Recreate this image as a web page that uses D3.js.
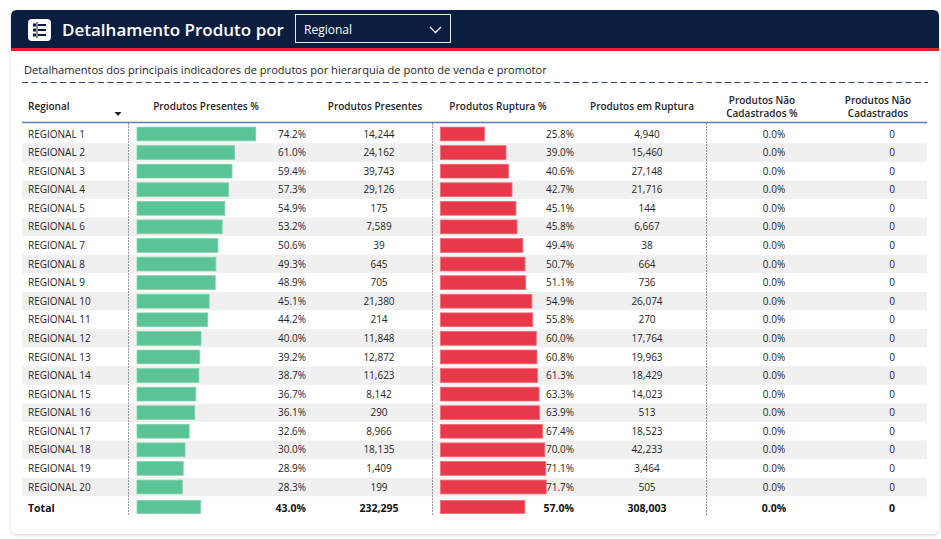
<!DOCTYPE html>
<html>
<head>
<meta charset="utf-8">
<script src="https://cdn.jsdelivr.net/npm/d3@7"></script>
<style>
  body { margin: 0; background: #ffffff; }
  svg text { font-family: "Open Sans", "Noto Sans", sans-serif; }
</style>
</head>
<body>
<svg id="chart"></svg>
<script>
var regionais = ["REGIONAL 1","REGIONAL 2","REGIONAL 3","REGIONAL 4","REGIONAL 5","REGIONAL 6","REGIONAL 7","REGIONAL 8","REGIONAL 9","REGIONAL 10",
  "REGIONAL 11","REGIONAL 12","REGIONAL 13","REGIONAL 14","REGIONAL 15","REGIONAL 16","REGIONAL 17","REGIONAL 18","REGIONAL 19","REGIONAL 20"];
var presentesPct = [74.2,61.0,59.4,57.3,54.9,53.2,50.6,49.3,48.9,45.1,44.2,40.0,39.2,38.7,36.7,36.1,32.6,30.0,28.9,28.3];
var presentes = [14244,24162,39743,29126,175,7589,39,645,705,21380,214,11848,12872,11623,8142,290,8966,18135,1409,199];
var rupturaPct = [25.8,39.0,40.6,42.7,45.1,45.8,49.4,50.7,51.1,54.9,55.8,60.0,60.8,61.3,63.3,63.9,67.4,70.0,71.1,71.7];
var ruptura = [4940,15460,27148,21716,144,6667,38,664,736,26074,270,17764,19963,18429,14023,513,18523,42233,3464,505];
var naoCadPct = [0,0,0,0,0,0,0,0,0,0,0,0,0,0,0,0,0,0,0,0];
var naoCad = [0,0,0,0,0,0,0,0,0,0,0,0,0,0,0,0,0,0,0,0];
var totalRow = { presentesPct: 43.0, presentes: 232295, rupturaPct: 57.0, ruptura: 308003, naoCadPct: 0.0, naoCad: 0 };

var W = 941, H = 539;
var navy = "#0c1e40", red = "#e3202f", green = "#5bc496", barRed = "#e8394a", txt = "#252423";

var svg = d3.select("#chart").attr("width", W).attr("height", H);

var defs = svg.append("defs");
var sh = defs.append("filter").attr("id", "shadow").attr("x", "-5%").attr("y", "-5%").attr("width", "110%").attr("height", "112%");
sh.append("feDropShadow").attr("dx", 0).attr("dy", 1).attr("stdDeviation", 1.5).attr("flood-color", "#000").attr("flood-opacity", 0.18);

// card
var card = { x: 11, y: 10, w: 928, h: 524 };
svg.append("rect").attr("x", card.x).attr("y", card.y).attr("width", card.w).attr("height", card.h)
  .attr("rx", 6).attr("fill", "#fff").attr("filter", "url(#shadow)");

// header band
var hdr = svg.append("g");
hdr.append("path")
  .attr("d", "M" + card.x + "," + (card.y + 38) + " V" + (card.y + 6) + " Q" + card.x + "," + card.y + " " + (card.x + 6) + "," + card.y +
    " H" + (card.x + card.w - 6) + " Q" + (card.x + card.w) + "," + card.y + " " + (card.x + card.w) + "," + (card.y + 6) +
    " V" + (card.y + 38) + " Z")
  .attr("fill", navy);
hdr.append("rect").attr("x", card.x).attr("y", card.y + 38).attr("width", card.w).attr("height", 3).attr("fill", red);

// icon
var ic = hdr.append("g").attr("transform", "translate(28,19)");
ic.append("rect").attr("width", 23).attr("height", 22).attr("rx", 4).attr("fill", "#fff");
[6, 11, 16].forEach(function (y) {
  ic.append("rect").attr("x", 5).attr("y", y - 1.5).attr("width", 3).attr("height", 3).attr("fill", navy);
  ic.append("rect").attr("x", 10).attr("y", y - 1).attr("width", 8).attr("height", 2).attr("fill", navy);
});
ic.append("line").attr("x1", 9).attr("x2", 9).attr("y1", 3).attr("y2", 19).attr("stroke", navy).attr("stroke-width", 1);

hdr.append("text").attr("x", 62).attr("y", 36).attr("fill", "#fff")
  .attr("font-size", 17).attr("font-weight", 600).text("Detalhamento Produto por");

// dropdown
hdr.append("rect").attr("x", 295.5).attr("y", 14.5).attr("width", 155).attr("height", 28)
  .attr("fill", "none").attr("stroke", "#e6e9ef").attr("stroke-width", 1);
hdr.append("text").attr("x", 304).attr("y", 34).attr("fill", "#fff").attr("font-size", 12).text("Regional");
hdr.append("path").attr("d", "M430,27 L435.5,32.5 L441,27").attr("fill", "none").attr("stroke", "#fff").attr("stroke-width", 1.3);

// subtitle + dashed rule
svg.append("text").attr("x", 24).attr("y", 74).attr("fill", txt).attr("font-size", 11.1)
  .text("Detalhamentos dos principais indicadores de produtos por hierarquia de ponto de venda e promotor");
svg.append("line").attr("x1", 22).attr("x2", 928).attr("y1", 82.5).attr("y2", 82.5)
  .attr("stroke", "#34466b").attr("stroke-width", 1.2).attr("stroke-dasharray", "6,3.5");

// table geometry
var tableLeft = 22, tableRight = 927;
var y = d3.scaleBand().domain(d3.range(regionais.length)).range([124.7, 496.3]).padding(0);
var totalY = 508;

// data bars: presentes linear; ruptura squeezed near the value text, as in the report
var pctBar = d3.scaleLinear().domain([0, 100]).range([0, 160]);
var rupBar = d3.scaleLinear().domain([0, 55, 72]).range([2, 91.5, 106]).clamp(true);
var totBar = d3.scaleLinear().domain([0, 100]).range([0, 148]);

var fmtPct = function (v) { return d3.format(".1f")(v) + "%"; };
var fmtNum = d3.format(",");

// column headers
var hd = svg.append("g").attr("fill", txt).attr("font-size", 10).attr("font-weight", 600);
hd.append("text").attr("x", 28).attr("y", 110).text("Regional");
hd.append("text").attr("x", 206).attr("y", 110).attr("text-anchor", "middle").text("Produtos Presentes %");
hd.append("text").attr("x", 375).attr("y", 110).attr("text-anchor", "middle").text("Produtos Presentes");
hd.append("text").attr("x", 498).attr("y", 110).attr("text-anchor", "middle").text("Produtos Ruptura %");
hd.append("text").attr("x", 642).attr("y", 110).attr("text-anchor", "middle").text("Produtos em Ruptura");
hd.append("text").attr("x", 762).attr("y", 104).attr("text-anchor", "middle").text("Produtos Não");
hd.append("text").attr("x", 762).attr("y", 117).attr("text-anchor", "middle").text("Cadastrados %");
hd.append("text").attr("x", 878).attr("y", 104).attr("text-anchor", "middle").text("Produtos Não");
hd.append("text").attr("x", 878).attr("y", 117).attr("text-anchor", "middle").text("Cadastrados");
svg.append("path").attr("d", "M114.5,112 L121.5,112 L118,116 Z").attr("fill", "#222");

// rows
var rows = svg.append("g").selectAll("g").data(regionais).join("g")
  .attr("transform", function (d, i) { return "translate(0," + y(i) + ")"; });
var bh = y.bandwidth();

rows.append("rect").attr("x", tableLeft).attr("width", tableRight - tableLeft).attr("height", bh)
  .attr("fill", function (d, i) { return i % 2 ? "#f0f0f0" : "#fff"; });

rows.append("rect").attr("x", 137).attr("y", 2.4).attr("height", bh - 4.8)
  .attr("width", function (d, i) { return pctBar(presentesPct[i]); })
  .attr("fill", green).attr("stroke", "#7fd4ad").attr("stroke-width", 0.8);
rows.append("rect").attr("x", 440.5).attr("y", 2.4).attr("height", bh - 4.8)
  .attr("width", function (d, i) { return rupBar(rupturaPct[i]); })
  .attr("fill", barRed).attr("stroke", "#ef6a76").attr("stroke-width", 0.8);

var rt = rows.append("g").attr("fill", txt).attr("font-size", 10);
rt.append("text").attr("x", 28).attr("y", bh / 2 + 3.6).text(function (d) { return d; });
rt.append("text").attr("x", 306).attr("y", bh / 2 + 3.6).attr("text-anchor", "end").text(function (d, i) { return fmtPct(presentesPct[i]); });
rt.append("text").attr("x", 379).attr("y", bh / 2 + 3.6).attr("text-anchor", "middle").text(function (d, i) { return fmtNum(presentes[i]); });
rt.append("text").attr("x", 574).attr("y", bh / 2 + 3.6).attr("text-anchor", "end").text(function (d, i) { return fmtPct(rupturaPct[i]); });
rt.append("text").attr("x", 647).attr("y", bh / 2 + 3.6).attr("text-anchor", "middle").text(function (d, i) { return fmtNum(ruptura[i]); });
rt.append("text").attr("x", 774).attr("y", bh / 2 + 3.6).attr("text-anchor", "middle").text(function (d, i) { return fmtPct(naoCadPct[i]); });
rt.append("text").attr("x", 892).attr("y", bh / 2 + 3.6).attr("text-anchor", "middle").text(function (d, i) { return fmtNum(naoCad[i]); });

// total row
var tg = svg.append("g");
tg.append("rect").attr("x", 137).attr("y", 500.5).attr("height", 13).attr("width", totBar(totalRow.presentesPct))
  .attr("fill", green).attr("stroke", "#7fd4ad").attr("stroke-width", 0.8);
tg.append("rect").attr("x", 440.5).attr("y", 500.5).attr("height", 13).attr("width", totBar(totalRow.rupturaPct))
  .attr("fill", barRed).attr("stroke", "#ef6a76").attr("stroke-width", 0.8);
var tt = tg.append("g").attr("fill", "#111").attr("font-size", 10.5).attr("font-weight", 700);
tt.append("text").attr("x", 28).attr("y", totalY + 4).text("Total");
tt.append("text").attr("x", 306).attr("y", totalY + 4).attr("text-anchor", "end").text(fmtPct(totalRow.presentesPct));
tt.append("text").attr("x", 379).attr("y", totalY + 4).attr("text-anchor", "middle").text(fmtNum(totalRow.presentes));
tt.append("text").attr("x", 574).attr("y", totalY + 4).attr("text-anchor", "end").text(fmtPct(totalRow.rupturaPct));
tt.append("text").attr("x", 647).attr("y", totalY + 4).attr("text-anchor", "middle").text(fmtNum(totalRow.ruptura));
tt.append("text").attr("x", 774).attr("y", totalY + 4).attr("text-anchor", "middle").text(fmtPct(totalRow.naoCadPct));
tt.append("text").attr("x", 892).attr("y", totalY + 4).attr("text-anchor", "middle").text(fmtNum(totalRow.naoCad));

// header underline and dotted column separators
svg.append("line").attr("x1", tableLeft).attr("x2", tableRight).attr("y1", 122.5).attr("y2", 122.5)
  .attr("stroke", "#5b7db8").attr("stroke-width", 1.5);
[128.5, 432.5, 706.5].forEach(function (x) {
  svg.append("line").attr("x1", x).attr("x2", x).attr("y1", 123.5).attr("y2", 516)
    .attr("stroke", "#333").attr("stroke-width", 1).attr("stroke-dasharray", "1,2");
});
</script>
</body>
</html>
